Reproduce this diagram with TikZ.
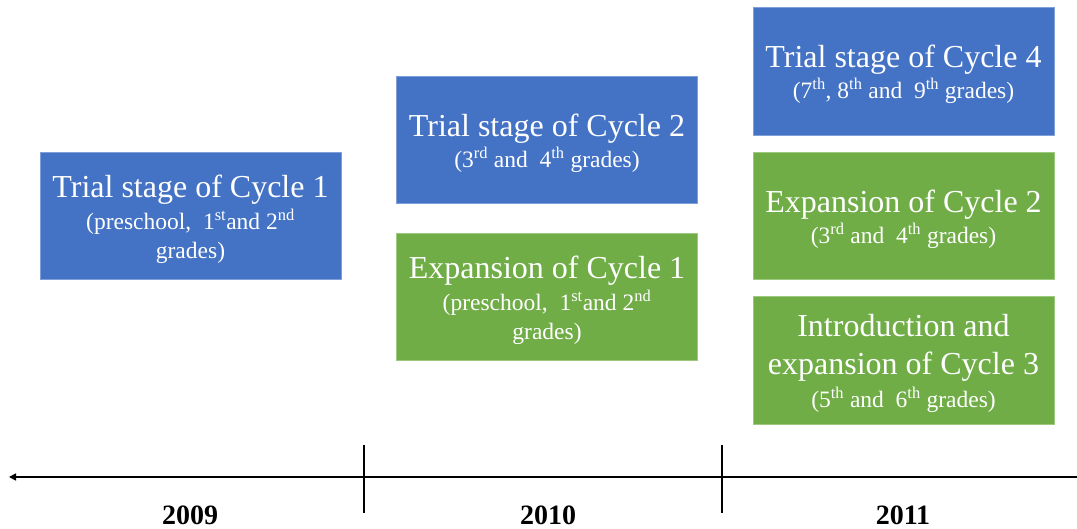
\documentclass[tikz,border=0pt]{standalone}
\usepackage{fontspec}
\setmainfont{Liberation Serif}
\usetikzlibrary{arrows.meta}
\definecolor{ofblue}{HTML}{4472C4}
\definecolor{ofgreen}{HTML}{70AD47}
\definecolor{ofblueedge}{HTML}{7F9FD8}
\definecolor{ofgreenedge}{HTML}{9CC880}
\newcommand{\ttlfont}{\fontsize{32}{34}\selectfont\rule{0pt}{30pt}}
\newcommand{\sth}[1]{\textsuperscript{#1}}
\begin{document}
\begin{tikzpicture}[x=1pt,y=-1pt,
  stagebox/.style={rectangle, minimum width=301pt, minimum height=127pt, inner sep=0pt,
    align=center, text=white, font=\fontsize{23.5}{29}\selectfont, line width=0.6pt},
  bluebox/.style={stagebox, fill=ofblue, draw=ofblueedge},
  greenbox/.style={stagebox, fill=ofgreen, draw=ofgreenedge},
  axisline/.style={line width=1.6pt, black},
  yearlabel/.style={anchor=base, font=\bfseries\fontsize{28}{30}\selectfont}]
\useasboundingbox (0,0) rectangle (1077,529);
\node[bluebox] (c1trial) at (190.5,215.5) {{\ttlfont Trial stage of Cycle 1}\\[3pt](preschool, \ 1\sth{st}and 2\sth{nd}\\grades)};
\node[bluebox] (c2trial) at (547,140) {{\ttlfont Trial stage of Cycle 2}\\[2pt](3\sth{rd} and \ 4\sth{th} grades)};
\node[greenbox] (c1exp) at (547,296.5) {{\ttlfont Expansion of Cycle 1}\\[3pt](preschool, \ 1\sth{st}and 2\sth{nd}\\grades)};
\node[bluebox, minimum height=128pt] (c4trial) at (903.5,71) {{\ttlfont Trial stage of Cycle 4}\\[2pt](7\sth{th}, 8\sth{th} and \ 9\sth{th} grades)};
\node[greenbox] (c2exp) at (903.5,215.5) {{\ttlfont Expansion of Cycle 2}\\[2pt](3\sth{rd} and \ 4\sth{th} grades)};
\node[greenbox, minimum height=128pt] (c3intro) at (903.5,360) {{\ttlfont Introduction and}\\[9pt]{\fontsize{32}{34}\selectfont expansion of Cycle 3}\\[4pt](5\sth{th} and \ 6\sth{th} grades)};
\coordinate (axl) at (9,477);
\coordinate (axr) at (1077,477);
\coordinate (t1top) at (364,445);
\coordinate (t1bot) at (364,513);
\coordinate (t2top) at (722,445);
\coordinate (t2bot) at (722,513);
\draw[axisline, {Triangle[length=7pt,width=7pt]}-] (axl) -- (axr);
\draw[axisline] (t1top) -- (t1bot);
\draw[axisline] (t2top) -- (t2bot);
\node[yearlabel] (y2009) at (190,524) {2009};
\node[yearlabel] (y2010) at (548,524) {2010};
\node[yearlabel] (y2011) at (903,524) {2011};
\end{tikzpicture}
\end{document}
